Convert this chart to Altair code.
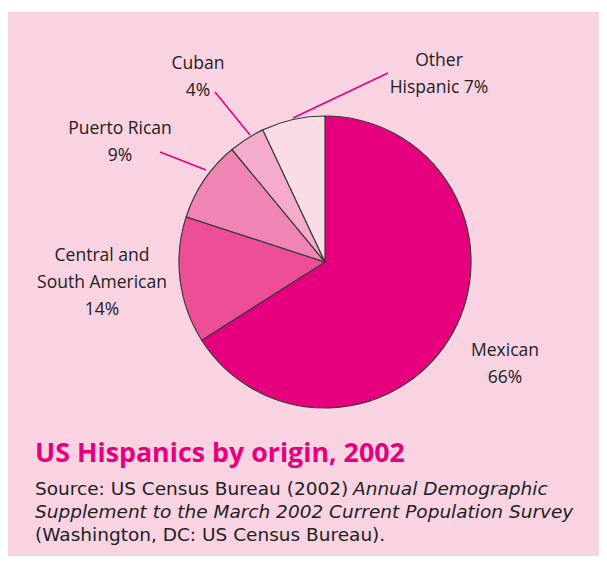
import altair as alt
import pandas as pd

# ---- data ----
origins = ["Mexican", "Central and South American", "Puerto Rican", "Cuban", "Other Hispanic"]
shares = [66, 14, 9, 4, 7]
slice_colors = ["#E6007E", "#EC4F98", "#F085B5", "#F5ABCB", "#FADCE7"]

label_lines = [
    ["Mexican", "66%"],
    ["Central and", "South American", "14%"],
    ["Puerto Rican", "9%"],
    ["Cuban", "4%"],
    ["Other", "Hispanic 7%"],
]
title_text = "US Hispanics by origin, 2002"
source_regular = ["Source: US Census Bureau (2002)", "", "(Washington, DC: US Census Bureau)."]
source_italic = ["Annual Demographic", "Supplement to the March 2002 Current Population Survey", ""]

# ---- layout (pixels inside view) ----
CX, CY, R = 317, 250, 146
label_anchor = [(497, 339), (94, 244), (112, 117), (190, 52), (431, 49)]
LINE_H = 27
leaders = [((207, 80), (242, 123)), ((152, 140), (198, 158)), ((380, 61), (285, 106))]

BG = "#F9D3E2"
MAGENTA = "#E5007D"
FONT = "Open Sans"
SRC_FONT = "DejaVu Sans"

pie_df = pd.DataFrame({"origin": origins, "share": shares, "idx": range(len(origins))})

pie = alt.Chart(pie_df).mark_arc(outerRadius=R, stroke="#3a3a3a", strokeWidth=1.2).encode(
    theta=alt.Theta("share:Q", stack=True),
    order=alt.Order("idx:Q"),
    color=alt.Color("origin:N", scale=alt.Scale(domain=origins, range=slice_colors), legend=None),
    x=alt.value(CX),
    y=alt.value(CY),
)

rows = []
for lines, (ax, ay) in zip(label_lines, label_anchor):
    for i, t in enumerate(lines):
        rows.append({"t": t, "px": ax, "py": ay + i * LINE_H})
lab_df = pd.DataFrame(rows)
labels = alt.Chart(lab_df).mark_text(font=FONT, fontSize=17.5, color="#222222", align="center", baseline="middle").encode(
    x=alt.X("px:Q", scale=None), y=alt.Y("py:Q", scale=None), text="t:N"
)

lead_df = pd.DataFrame([{"x1": a[0], "y1": a[1], "x2": b[0], "y2": b[1]} for a, b in leaders])
lead = alt.Chart(lead_df).mark_rule(color=MAGENTA, strokeWidth=1.6).encode(
    x=alt.X("x1:Q", scale=None), y=alt.Y("y1:Q", scale=None),
    x2="x2:Q", y2="y2:Q",
)

title_df = pd.DataFrame({"t": [title_text], "px": [27], "py": [450]})
title = alt.Chart(title_df).mark_text(font=FONT, fontSize=26.8, fontWeight="bold", color=MAGENTA, align="left", baseline="alphabetic").encode(
    x=alt.X("px:Q", scale=None), y=alt.Y("py:Q", scale=None), text="t:N"
)

src_y = [483, 506, 529]
reg_df = pd.DataFrame({"t": source_regular, "px": [27] * 3, "py": src_y})
reg_df = reg_df[reg_df.t != ""]
src_reg = alt.Chart(reg_df).mark_text(font=SRC_FONT, fontSize=18.5, color="#222222", align="left", baseline="alphabetic").encode(
    x=alt.X("px:Q", scale=None), y=alt.Y("py:Q", scale=None), text="t:N"
)
ita_df = pd.DataFrame({"t": source_italic, "px": [345, 27, 27], "py": src_y})
ita_df = ita_df[ita_df.t != ""]
src_ita = alt.Chart(ita_df).mark_text(font=SRC_FONT, fontSize=18.5, fontStyle="italic", color="#222222", align="left", baseline="alphabetic").encode(
    x=alt.X("px:Q", scale=None), y=alt.Y("py:Q", scale=None), text="t:N"
)

chart = alt.layer(pie, lead, labels, title, src_reg, src_ita).properties(
    width=591, height=548,
    padding={"left": 0, "top": 4, "right": 0, "bottom": 0},
    autosize=alt.AutoSizeParams(type="fit", contains="padding"),
    background="white",
).configure_view(fill=BG, stroke=None)

chart.save("out.html", embed_options={"renderer": "svg", "actions": False})
